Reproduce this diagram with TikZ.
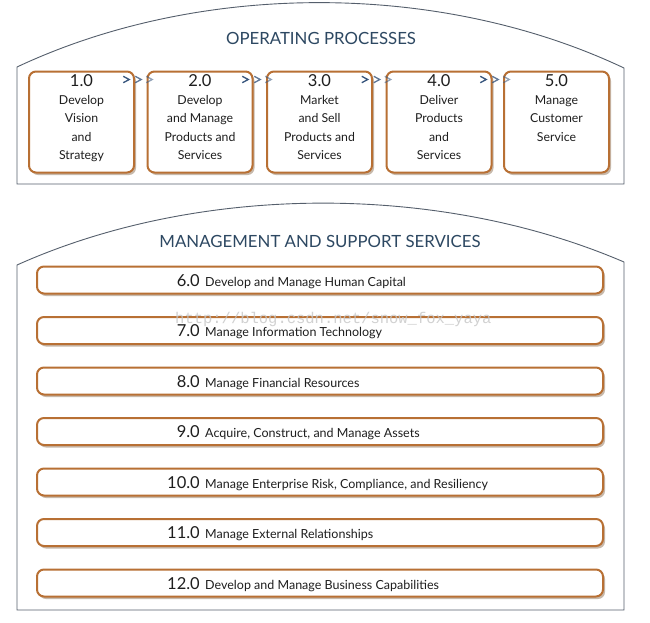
\documentclass[tikz,border=0pt]{standalone}
\usepackage{fontspec}
\setmainfont{Lato}
\newfontfamily\wmfont{Liberation Mono}
\usetikzlibrary{shadows,calc}
\definecolor{brd}{RGB}{184,112,52}
\definecolor{ttl}{RGB}{45,72,98}
\definecolor{txt}{RGB}{30,30,30}
\definecolor{frm}{RGB}{85,95,108}
\definecolor{chev}{RGB}{55,85,125}
\begin{document}
\begin{tikzpicture}[x=1pt,y=-1pt,
  frame/.style={draw=frm, line width=0.9pt, fill=white},
  procbox/.style={draw=brd, line width=2pt, rounded corners=7pt, fill=white,
    minimum width=105pt, minimum height=101pt, inner sep=0pt,
    drop shadow={shadow xshift=2pt, shadow yshift=-2.5pt, fill=brown!40!gray, opacity=0.55}},
  procText/.style={align=center, inner sep=0pt, anchor=north, text=txt,
    font=\fontsize{12.3}{18.3}\selectfont},
  bar/.style={draw=brd, line width=2pt, rounded corners=7pt, fill=white,
    minimum width=566pt, minimum height=27pt, inner sep=0pt,
    drop shadow={shadow xshift=2pt, shadow yshift=-2.5pt, fill=brown!40!gray, opacity=0.55}},
  barNum/.style={anchor=base east, inner sep=0pt, text=txt, font=\fontsize{16.5}{17}\selectfont},
  barText/.style={anchor=base west, inner sep=0pt, text=txt, font=\fontsize{12.5}{14}\selectfont},
  title/.style={anchor=base, inner sep=0pt, text=ttl, font=\fontsize{16.8}{18}\selectfont},
  chevron/.style={draw=chev, line width=1.3pt, line join=miter}
]
\useasboundingbox (0,0) rectangle (650,622);
% top container
\draw[frame] (17,184) -- (17,67) .. controls (200,-19) and (440,-19) .. (624,68) -- (624,184) -- cycle;
\node[title] (t1) at (321,44) {OPERATING PROCESSES};
% bottom container
\draw[frame] (17,610) -- (17,265) .. controls (200,183) and (440,183) .. (624,262) -- (624,610) -- cycle;
\node[title] (t2) at (320,247) {MANAGEMENT AND SUPPORT SERVICES};

% process boxes
\foreach \i/\x/\num/\lab in {
  1/81.5/1.0/{Develop\\Vision\\and\\Strategy},
  2/200/2.0/{Develop\\and Manage\\Products and\\Services},
  3/319.5/3.0/{Market\\and Sell\\Products and\\Services},
  4/439/4.0/{Deliver\\Products\\and\\Services},
  5/556.5/5.0/{Manage\\Customer\\Service}}{
  \node[procbox] (b\i) at (\x,122) {};
  \node[procText] (b\i t) at ($(b\i.north)+(0,3.5)$) {{\fontsize{16.5}{17}\selectfont \num}\\\lab};
}
% chevrons between the boxes
\foreach \a/\b in {1/2,2/3,3/4,4/5}{
  \coordinate (c\a) at ($(b\a.north east)!0.5!(b\b.north west)+(0,9)$);
  \foreach \dx/\op in {-17.5/1,-5.5/0.8,5.5/0.55}{
    \draw[chevron, draw opacity=\op] ($(c\a)+(\dx,-3.2)$) -- ($(c\a)+(\dx+6,0)$) -- ($(c\a)+(\dx,3.2)$);
  }
}

% bars
\foreach \i/\num/\lab in {
  6/6.0/Develop and Manage Human Capital,
  7/7.0/Manage Information Technology,
  8/8.0/Manage Financial Resources,
  9/9.0/{Acquire, Construct, and Manage Assets},
  10/10.0/{Manage Enterprise Risk, Compliance, and Resiliency},
  11/11.0/Manage External Relationships,
  12/12.0/Develop and Manage Business Capabilities}{
  \pgfmathsetmacro{\yy}{280+(\i-6)*50.5}
  \node[bar] (r\i) at (320,\yy) {};
  \node[barNum] (n\i) at (200,\yy+6) {\num};
  \node[barText] (l\i) at (205,\yy+6) {\lab};
}

% watermark
\node[anchor=base west, inner sep=0pt, text=gray!45, opacity=0.8,
  font=\wmfont\fontsize{15.5}{16}\selectfont] (wm) at (175,323.5) {http://blog.csdn.net/snow\_fox\_yaya};
\end{tikzpicture}
\end{document}
